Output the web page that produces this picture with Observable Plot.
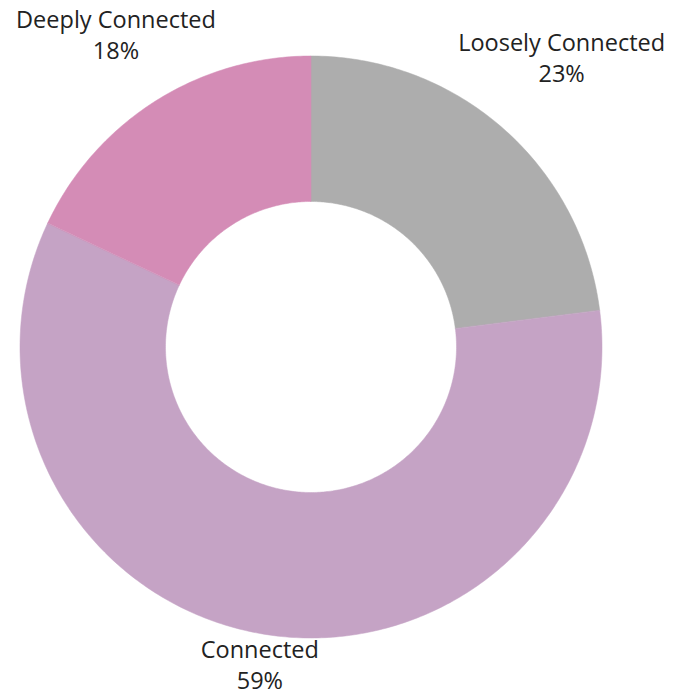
<!DOCTYPE html>
<html>
<head>
<meta charset="utf-8">
<script src="https://cdn.jsdelivr.net/npm/d3@7"></script>
<script src="https://cdn.jsdelivr.net/npm/@observablehq/plot@0.6"></script>
<style>
  html, body { margin: 0; padding: 0; background: #fff; }
</style>
</head>
<body>
<div id="chart"></div>
<script>
const categories = ["Loosely Connected", "Connected", "Deeply Connected"];
const values = [23, 59, 18];
const colors = ["#adadad", "#c5a3c5", "#d48cb6"];

const W = 673, H = 692;
const R = 291;            // outer radius in px
const innerRatio = 0.5;
const cx = 310.5, cy = 346.5;
const fontSize = 23.5;
const lineH = 1.3;
const fontFamily = "'Open Sans', sans-serif";

const pie = d3.pie().sort(null).value(d => d.value).startAngle(0).endAngle(2 * Math.PI);
const arcs = pie(categories.map((c, i) => ({category: c, value: values[i], color: colors[i]})));

// polygon points for each slice
const pts = [];
for (const a of arcs) {
  const n = Math.max(8, Math.ceil((a.endAngle - a.startAngle) * 80));
  for (let k = 0; k <= n; k++) {
    const t = a.startAngle + (a.endAngle - a.startAngle) * k / n;
    pts.push({category: a.data.category, x: Math.sin(t), y: Math.cos(t)});
  }
  for (let k = n; k >= 0; k--) {
    const t = a.startAngle + (a.endAngle - a.startAngle) * k / n;
    pts.push({category: a.data.category, x: innerRatio * Math.sin(t), y: innerRatio * Math.cos(t)});
  }
}

// label positions: push outward along mid-angle until text box clears the circle
const ctx = document.createElement("canvas").getContext("2d");
ctx.font = `${fontSize}px ${fontFamily}`;
const clearR = 299;
const labels = arcs.map(a => {
  const mid = (a.startAngle + a.endAngle) / 2;
  const lines = [a.data.category, `${a.data.value}%`];
  const hw = d3.max(lines, l => ctx.measureText(l).width) / 2;
  const hh = (fontSize * lineH * (lines.length - 1) + fontSize * 0.72) / 2;
  const dx = Math.sin(mid), dy = -Math.cos(mid);
  let t = R;
  for (; t < 3 * R; t += 0.5) {
    const px = t * dx, py = t * dy;
    const nx = Math.max(px - hw, Math.min(0, px + hw));
    const ny = Math.max(py - hh, Math.min(0, py + hh));
    if (Math.hypot(nx, ny) >= clearR) break;
  }
  return {text: lines.join("\n"), x: t * dx / R, y: -t * dy / R};
});

const chart = Plot.plot({
  width: W,
  height: H,
  marginLeft: cx - R,
  marginRight: W - (cx + R),
  marginTop: cy - R,
  marginBottom: H - (cy + R),
  x: {domain: [-1, 1], axis: null},
  y: {domain: [-1, 1], axis: null},
  color: {domain: categories, range: colors},
  style: {fontFamily, background: "#fff", overflow: "visible"},
  marks: [
    Plot.line(pts, {x: "x", y: "y", z: "category", fill: "category", stroke: "category", strokeWidth: 0.5, curve: "linear-closed"}),
    Plot.text(labels, {x: "x", y: "y", text: "text", fontSize, lineHeight: lineH, fill: "#222", textAnchor: "middle", dy: -6})
  ]
});
document.getElementById("chart").appendChild(chart);
</script>
</body>
</html>
